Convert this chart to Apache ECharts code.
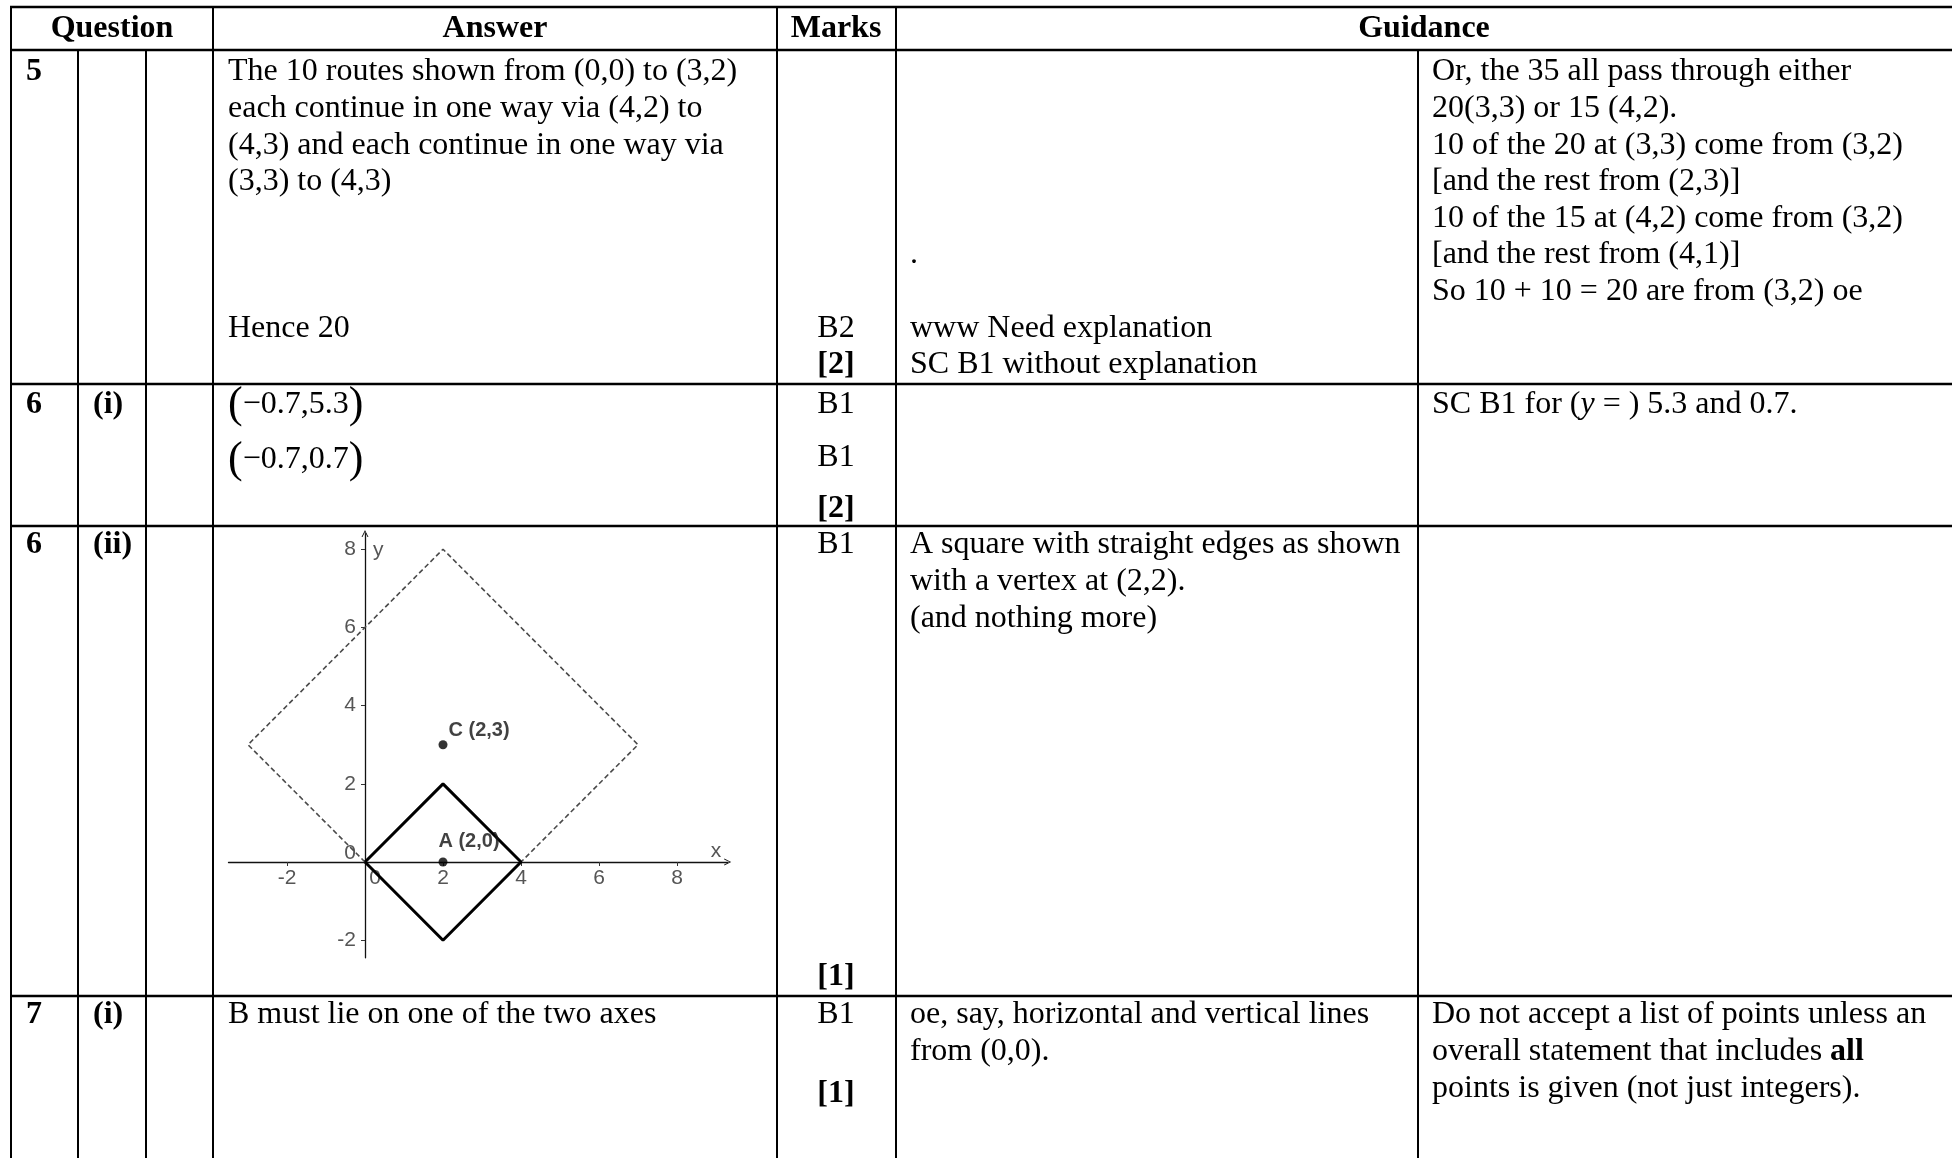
<!DOCTYPE html>
<html>
<head>
<meta charset="utf-8">
<script src="https://cdn.jsdelivr.net/npm/echarts@6/dist/echarts.min.js"></script>
<style>
  html, body { margin: 0; padding: 0; background: #fff; }
  #main { width: 1952px; height: 1158px; }
</style>
</head>
<body>
<div id="main"></div>
<script>
// ---- data for the little graph in 6(ii) ----
const xTickValues = [-2, 2, 4, 6, 8]
const yTickValues = [-2, 2, 4, 6, 8]
const xLabelValues = [-2, 0, 2, 4, 6, 8]
const yLabelValues = [-2, 0, 2, 4, 6, 8]
const squareA = [[0, 0], [2, 2], [4, 0], [2, -2], [0, 0]]      // solid, around A
const squareC = [[0, 0], [-3, 3], [2, 8], [7, 3], [4, 0]]      // dashed, around C
const pointNames = ['C (2,3)', 'A (2,0)']
const pointCoords = [[2, 3], [2, 0]]

// ---- table text ----
const headers = ['Question', 'Answer', 'Marks', 'Guidance']
const q5Answer = [
  'The 10 routes shown from (0,0) to (3,2)',
  'each continue in one way via (4,2) to',
  '(4,3) and each continue in one way via',
  '(3,3) to (4,3)'
]
const q5Final = 'Hence 20'
const q5Marks = ['B2', '[2]']
const q5Guide1 = ['.', 'www Need explanation', 'SC B1 without explanation']
const q5Guide2 = [
  'Or, the 35 all pass through either',
  '20(3,3) or 15 (4,2).',
  '10 of the 20 at (3,3) come from (3,2)',
  '[and the rest from (2,3)]',
  '10 of the 15 at (4,2) come from (3,2)',
  '[and the rest from (4,1)]',
  'So 10 + 10 = 20 are from (3,2) oe'
]
const q6iAnswer = ['\u22120.7,5.3', '\u22120.7,0.7']
const q6iMarks = ['B1', 'B1', '[2]']
const q6iiMarks = ['B1', '[1]']
const q6iiGuide1 = ['A square with straight edges as shown', 'with a vertex at (2,2).', '(and nothing more)']
const q7Answer = 'B must lie on one of the two axes'
const q7Marks = ['B1', '[1]']
const q7Guide1 = ['oe, say, horizontal and vertical lines', 'from (0,0).']
const q7Guide2 = ['Do not accept a list of points unless an', 'overall statement that includes {b|all}', 'points is given (not just integers).']

const SERIF = '"Liberation Serif", "Times New Roman", serif'
const SANS = '"Liberation Sans", Arial, sans-serif'
const LH = 36.6

// table grid
const COL = { left: 11, q2: 78, q3: 146, ans: 213, marks: 777, guide: 896, guide2: 1418, right: 1952 }
const ROW = { top: 7, head: 50, r5: 384, r6i: 526, r6ii: 996, bottom: 1158 }

function lineEl(x1, y1, x2, y2, w) {
  return { type: 'line', silent: true, z: 10, shape: { x1, y1, x2, y2 }, style: { stroke: '#000', lineWidth: w } }
}

function textEl(x, y, text, o = {}) {
  const align = o.align || 'left'
  const style = {
    text,
    fill: '#000',
    fontFamily: SERIF,
    fontSize: o.size || 32,
    fontWeight: o.bold ? 'bold' : 'normal',
    align, verticalAlign: 'middle',
    textAlign: align, textVerticalAlign: 'middle'
  }
  if (o.rich) style.rich = o.rich
  return { type: 'text', silent: true, z: 10, x, y, style }
}

const richBase = {
  n: { fontFamily: SERIF, fontSize: 32, fill: '#000', verticalAlign: 'middle' },
  p: { fontFamily: SERIF, fontSize: 44, fill: '#000', verticalAlign: 'middle' },
  i: { fontFamily: SERIF, fontSize: 32, fontStyle: 'italic', fill: '#000', verticalAlign: 'middle' },
  b: { fontFamily: SERIF, fontSize: 32, fontWeight: 'bold', fill: '#000', verticalAlign: 'middle' }
}

const elements = []

// horizontal rules
;[ROW.top, ROW.head, ROW.r5, ROW.r6i, ROW.r6ii].forEach(y => elements.push(lineEl(COL.left - 1, y, COL.right, y, 2.5)))
// vertical rules
;[COL.left, COL.ans, COL.marks, COL.guide].forEach(x => elements.push(lineEl(x, ROW.top, x, ROW.bottom, 2)))
;[COL.q2, COL.q3, COL.guide2].forEach(x => elements.push(lineEl(x, ROW.head, x, ROW.bottom, 2)))

// header
const headCenters = [112, 495, 836, 1424]
headers.forEach((h, i) => elements.push(textEl(headCenters[i], 29, h, { bold: true, align: 'center' })))

const xQ = 26, xSub = 93, xAns = 228, xMark = 836, xG1 = 910, xG2 = 1432
const y5 = 72

// question 5
elements.push(textEl(xQ, y5, '5', { bold: true }))
q5Answer.forEach((t, i) => elements.push(textEl(xAns, y5 + i * LH, t)))
elements.push(textEl(xAns, y5 + 7 * LH, q5Final))
elements.push(textEl(xMark, y5 + 7 * LH, q5Marks[0], { align: 'center' }))
elements.push(textEl(xMark, y5 + 8 * LH, q5Marks[1], { align: 'center', bold: true }))
elements.push(textEl(xG1, y5 + 5 * LH, q5Guide1[0]))
elements.push(textEl(xG1, y5 + 7 * LH, q5Guide1[1]))
elements.push(textEl(xG1, y5 + 8 * LH, q5Guide1[2]))
q5Guide2.forEach((t, i) => elements.push(textEl(xG2, y5 + i * LH, t)))

// question 6 (i)
elements.push(textEl(xQ, 405, '6', { bold: true }))
elements.push(textEl(xSub, 405, '(i)', { bold: true }))
elements.push(textEl(xAns, 405, '{p|(}{n|' + q6iAnswer[0] + '}{p|)}', { rich: richBase }))
elements.push(textEl(xAns, 460, '{p|(}{n|' + q6iAnswer[1] + '}{p|)}', { rich: richBase }))
elements.push(textEl(xMark, 405, q6iMarks[0], { align: 'center' }))
elements.push(textEl(xMark, 458, q6iMarks[1], { align: 'center' }))
elements.push(textEl(xMark, 509, q6iMarks[2], { align: 'center', bold: true }))
elements.push(textEl(xG2, 405, '{n|SC B1 for (}{i|y}{n| = ) 5.3 and 0.7.}', { rich: richBase }))

// question 6 (ii)
elements.push(textEl(xQ, 545, '6', { bold: true }))
elements.push(textEl(xSub, 545, '(ii)', { bold: true }))
elements.push(textEl(xMark, 545, q6iiMarks[0], { align: 'center' }))
elements.push(textEl(xMark, 977, q6iiMarks[1], { align: 'center', bold: true }))
q6iiGuide1.forEach((t, i) => elements.push(textEl(xG1, 545 + i * LH, t)))

// question 7 (i)
const y7 = 1015
elements.push(textEl(xQ, y7, '7', { bold: true }))
elements.push(textEl(xSub, y7, '(i)', { bold: true }))
elements.push(textEl(xAns, y7, q7Answer))
elements.push(textEl(xMark, y7, q7Marks[0], { align: 'center' }))
elements.push(textEl(xMark, 1094, q7Marks[1], { align: 'center', bold: true }))
q7Guide1.forEach((t, i) => elements.push(textEl(xG1, y7 + i * LH, t)))
q7Guide2.forEach((t, i) => elements.push(textEl(xG2, y7 + i * LH, t, { rich: richBase })))

// graph area: 39 px per unit, axes crossing at (0,0)
const gx = { min: -3.5, max: 9.3 }
const gy = { min: -2.45, max: 8.4 }
const grid = { left: 228.5, top: 533.6, width: 499.2, height: 424.2 }
const xOffset = -(grid.height * (0 - gy.min) / (gy.max - gy.min))   // lift x axis up to y = 0
const yOffset = -(grid.width * (0 - gx.min) / (gx.max - gx.min))    // push y axis right to x = 0

// open arrow head for the axes
const arrowPath = 'path://M0,10 L5,0 L10,10 L8.6,10 L5,2.6 L1.4,10 Z'
const tickLabel = { color: '#555', fontSize: 21, fontFamily: SANS }

const chart = echarts.init(document.getElementById('main'))
chart.setOption({
  animation: false,
  backgroundColor: '#fff',
  grid,
  xAxis: {
    type: 'value', min: gx.min, max: gx.max,
    position: 'bottom', offset: xOffset,
    splitLine: { show: false },
    axisLine: { onZero: false, lineStyle: { color: '#111', width: 1.3 }, symbol: ['none', arrowPath], symbolSize: [12, 7] },
    axisTick: { show: true, customValues: xTickValues, length: 4, lineStyle: { color: '#333' } },
    axisLabel: Object.assign({
      customValues: xLabelValues, margin: 6,
      formatter: v => (v === 0 ? '{z|0}' : String(v)),
      rich: { z: Object.assign({ padding: [0, 0, 0, 20] }, tickLabel) }
    }, tickLabel),
    name: 'x', nameLocation: 'end', nameGap: -17,
    nameTextStyle: Object.assign({ verticalAlign: 'bottom', align: 'left' }, tickLabel)
  },
  yAxis: {
    type: 'value', min: gy.min, max: gy.max,
    position: 'left', offset: yOffset,
    splitLine: { show: false },
    axisLine: { onZero: false, lineStyle: { color: '#111', width: 1.3 }, symbol: ['none', arrowPath], symbolSize: [12, 7] },
    axisTick: { show: true, customValues: yTickValues, length: 4, lineStyle: { color: '#333' } },
    axisLabel: Object.assign({
      customValues: yLabelValues, margin: 9,
      formatter: v => (v === 0 ? '{z|0}' : String(v)),
      rich: { z: Object.assign({ padding: [0, 0, 18, 0] }, tickLabel) }
    }, tickLabel),
    name: 'y', nameLocation: 'end', nameGap: -17,
    nameTextStyle: Object.assign({ verticalAlign: 'middle', align: 'left', padding: [0, 0, 0, 8] }, tickLabel)
  },
  series: [
    {
      type: 'line', data: squareC, symbol: 'none', silent: true, z: 2,
      lineStyle: { color: '#4a4a4a', width: 1.6, type: [5, 3] }
    },
    {
      type: 'line', data: squareA, symbol: 'none', silent: true, z: 3,
      lineStyle: { color: '#000', width: 3 }
    },
    {
      type: 'scatter', symbolSize: 9, z: 4,
      itemStyle: { color: '#000' },
      label: { show: true, formatter: '{b}', color: '#111', fontSize: 20, fontWeight: 'bold', fontFamily: SANS },
      data: pointNames.map((name, i) => ({
        name, value: pointCoords[i],
        label: i === 0 ? { position: 'right', offset: [-4, -14] } : { position: 'top', offset: [26, -1] }
      }))
    }
  ],
  graphic: { elements }
})
</script>
</body>
</html>
